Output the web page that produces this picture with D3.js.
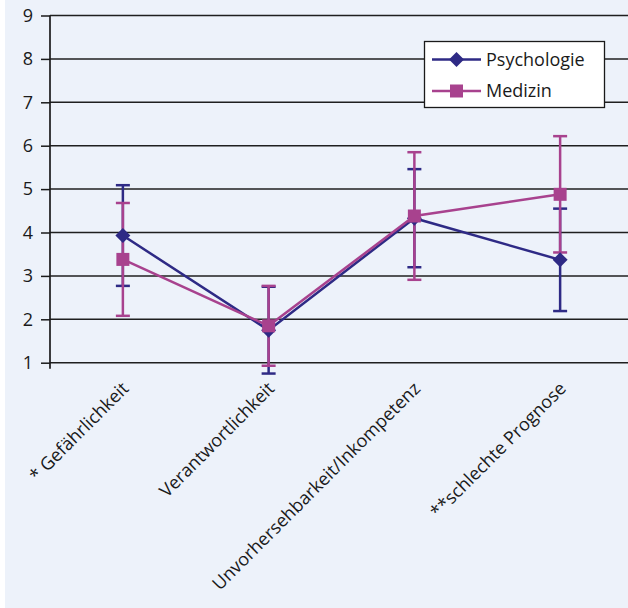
<!DOCTYPE html>
<html>
<head>
<meta charset="utf-8">
<script src="https://cdn.jsdelivr.net/npm/d3@7"></script>
<style>
    html, body { margin: 0; padding: 0; background: #ffffff; }
    svg { display: block; font-family: "Open Sans", "Noto Sans", sans-serif; }
</style>
</head>
<body>
<svg id="chart"></svg>
<script>
// chart data
var categories = ["* Gefährlichkeit", "Verantwortlichkeit", "Unvorhersehbarkeit/Inkompetenz", "**schlechte Prognose"];
var seriesNames = ["Psychologie", "Medizin"];
var psychologieMean = [3.93, 1.75, 4.33, 3.37];
var psychologieErr = [1.16, 1.0, 1.13, 1.18];
var medizinMean = [3.38, 1.85, 4.38, 4.88];
var medizinErr = [1.3, 0.92, 1.47, 1.34];
var yTicks = [1, 2, 3, 4, 5, 6, 7, 8, 9];

var colors = { Psychologie: "#2e2a85", Medizin: "#a8428e" };

var series = [
    { name: seriesNames[0], mean: psychologieMean, err: psychologieErr, marker: "diamond" },
    { name: seriesNames[1], mean: medizinMean, err: medizinErr, marker: "square" }
];

var W = 628, H = 608;

// set the dimensions and margins of the graph
var margin = { top: 15.5, left: 50, right: -5, bottom: 245.3 };

var svg = d3.select("#chart")
    .attr("width", W)
    .attr("height", H);

// light blue panel
svg.append("rect")
    .attr("x", 5)
    .attr("y", 0)
    .attr("width", W - 5)
    .attr("height", H)
    .attr("fill", "#edf2fa");

var x = d3.scaleBand()
    .domain(categories)
    .range([margin.left, W - margin.right]);

var y = d3.scaleLinear()
    .domain([1, 9])
    .range([H - margin.bottom, margin.top]);

function cx(i) { return x(categories[i]) + x.bandwidth() / 2; }

// gridlines
svg.append("g")
    .selectAll("line")
    .data(yTicks)
    .enter().append("line")
    .attr("x1", margin.left)
    .attr("x2", W)
    .attr("y1", function(d) { return y(d); })
    .attr("y2", function(d) { return y(d); })
    .attr("stroke", "#1f1f1f")
    .attr("stroke-width", 1.5);

// y axis
var axisY = svg.append("g")
    .attr("transform", "translate(" + margin.left + ",0)")
    .call(d3.axisLeft(y).tickValues(yTicks).tickSize(9).tickPadding(8).tickFormat(d3.format("d")));

axisY.select(".domain").remove();
axisY.selectAll("line").attr("stroke", "#1a1a1a").attr("stroke-width", 1.5);
axisY.selectAll("text")
    .attr("fill", "#1a1a1a")
    .style("font-size", "18px")
    .style("font-family", "\"Open Sans\", sans-serif");

svg.append("line")
    .attr("x1", margin.left)
    .attr("x2", margin.left)
    .attr("y1", y(9))
    .attr("y2", y(1) + 6)
    .attr("stroke", "#1a1a1a")
    .attr("stroke-width", 1.7);

// category labels, rotated
svg.append("g")
    .selectAll("text")
    .data(categories)
    .enter().append("text")
    .attr("transform", function(d, i) {
        return "translate(" + (cx(i) + 7) + "," + (y(1) + 27) + ") rotate(-45)";
    })
    .attr("text-anchor", "end")
    .attr("fill", "#1a1a1a")
    .style("font-size", "18px")
    .text(function(d) { return d; });

var capW = 7;

// error bars first (Psychologie, then Medizin)
series.forEach(function(s) {
    var g = svg.append("g")
        .attr("stroke", colors[s.name])
        .attr("stroke-width", 2.5);
    s.mean.forEach(function(m, i) {
        var top = y(m + s.err[i]), bot = y(m - s.err[i]), xc = cx(i);
        g.append("line").attr("x1", xc).attr("x2", xc).attr("y1", top).attr("y2", bot);
        g.append("line").attr("x1", xc - capW).attr("x2", xc + capW).attr("y1", top).attr("y2", top);
        g.append("line").attr("x1", xc - capW).attr("x2", xc + capW).attr("y1", bot).attr("y2", bot);
    });
});

var line = d3.line()
    .x(function(d, i) { return cx(i); })
    .y(function(d) { return y(d); });

function drawMarker(sel, type, color, px, py) {
    if (type === "diamond") {
        sel.append("path")
            .attr("d", "M" + px + "," + (py - 7.5) + "L" + (px + 7.5) + "," + py + "L" + px + "," + (py + 7.5) + "L" + (px - 7.5) + "," + py + "Z")
            .attr("fill", color);
    } else {
        sel.append("rect")
            .attr("x", px - 6.5)
            .attr("y", py - 6.5)
            .attr("width", 13)
            .attr("height", 13)
            .attr("fill", color);
    }
}

// lines and markers
series.forEach(function(s) {
    var g = svg.append("g");
    g.append("path")
        .datum(s.mean)
        .attr("d", line)
        .attr("fill", "none")
        .attr("stroke", colors[s.name])
        .attr("stroke-width", 2.5);
    s.mean.forEach(function(m, i) {
        drawMarker(g, s.marker, colors[s.name], cx(i), y(m));
    });
});

// legend
var legend = svg.append("g");
legend.append("rect")
    .attr("x", 424.5)
    .attr("y", 41.5)
    .attr("width", 180)
    .attr("height", 66)
    .attr("fill", "#ffffff")
    .attr("stroke", "#1a1a1a")
    .attr("stroke-width", 1.3);

series.forEach(function(s, i) {
    var ly = 59.5 + i * 31.5;
    legend.append("line")
        .attr("x1", 432)
        .attr("x2", 481)
        .attr("y1", ly)
        .attr("y2", ly)
        .attr("stroke", colors[s.name])
        .attr("stroke-width", 2.5);
    drawMarker(legend, s.marker, colors[s.name], 456.5, ly);
    legend.append("text")
        .attr("x", 486)
        .attr("y", ly)
        .attr("dy", "0.35em")
        .attr("fill", "#1a1a1a")
        .style("font-size", "18px")
        .text(s.name);
});
</script>
</body>
</html>
